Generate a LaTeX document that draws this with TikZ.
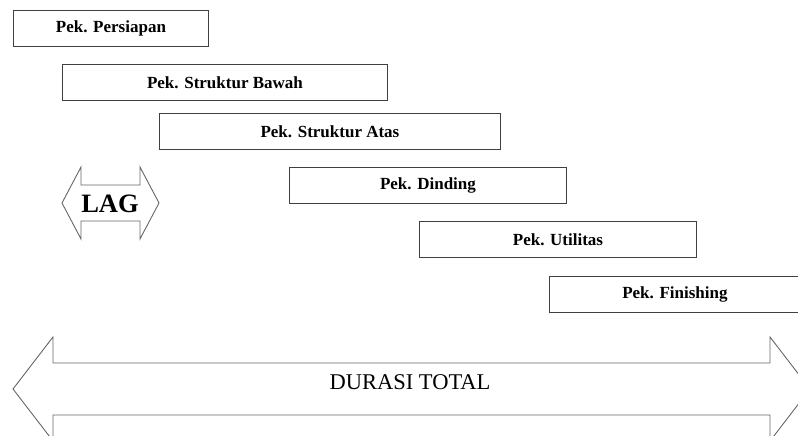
\documentclass[tikz,border=0pt]{standalone}
\usepackage{fontspec}
\setmainfont{Liberation Serif}
\usetikzlibrary{positioning}

\begin{document}
\begin{tikzpicture}[x=1pt, y=-1pt,
                    task/.style={draw=black!75, line width=0.9pt, rectangle, anchor=north west,
                                 minimum height=36pt, inner sep=0pt,
                                 font=\bfseries\fontsize{17}{20}\selectfont},
                    bigarrow/.style={draw=black!60, line width=0.9pt}]
\useasboundingbox (0,0) rectangle (798,436);
\clip (0,0) rectangle (798,436);

\node[task, minimum width=195pt] (persiapan) at (13,10) {Pek. Persiapan};
\node[task, minimum width=325pt] (bawah) at (62,64) {Pek. Struktur Bawah};
\node[task, minimum width=341pt] (atas) at (159,113) {Pek. Struktur Atas};
\node[task, minimum width=277pt] (dinding) at (289,167) {Pek. Dinding};
\node[task, minimum width=277pt] (utilitas) at (419,221) {Pek. Utilitas};
\node[task, minimum width=251pt] (finishing) at (549,276) {Pek. Finishing};

% lag arrow
\draw[bigarrow] (62,203) -- (81,167) -- (81,185) -- (140,185) -- (140,167) -- (159,203)
  -- (140,239) -- (140,221) -- (81,221) -- (81,239) -- cycle;
\node[font=\bfseries\fontsize{26.5}{30}\selectfont] (lag) at (110,204) {LAG};

% total duration
\draw[bigarrow] (13,389) -- (53,337) -- (53,363) -- (770,363) -- (770,337) -- (810,389)
  -- (770,441) -- (770,415) -- (53,415) -- (53,441) -- cycle;
\node[font=\fontsize{22.5}{26}\selectfont] (durasi) at (410,382) {DURASI TOTAL};
\end{tikzpicture}
\end{document}
